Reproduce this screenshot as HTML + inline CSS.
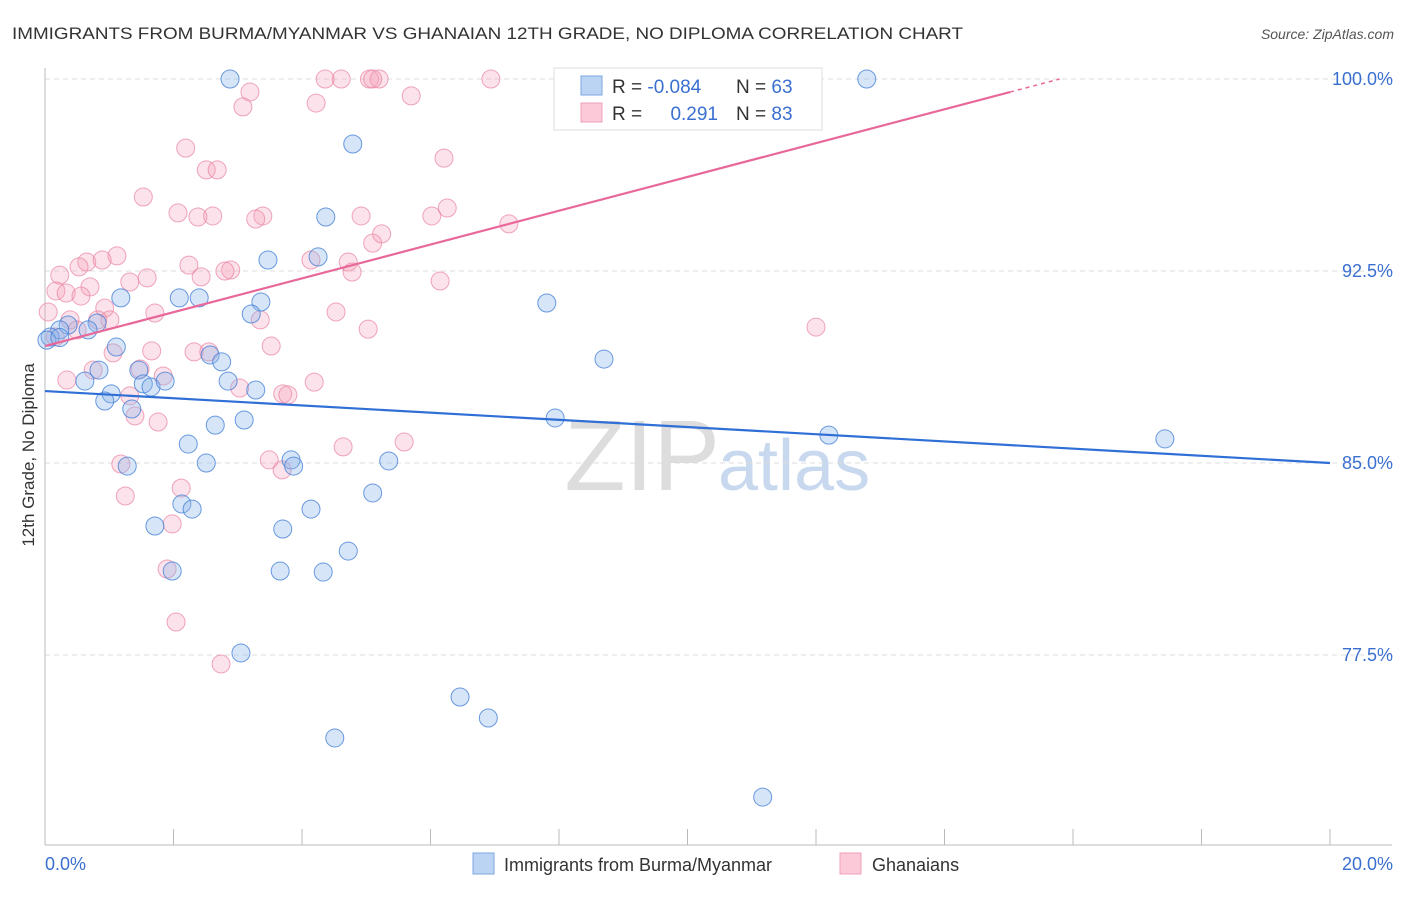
<!DOCTYPE html>
<html><head><meta charset="utf-8"><style>
body{margin:0;background:#fff;font-family:"Liberation Sans",sans-serif;}
svg text{font-family:"Liberation Sans",sans-serif;}
</style></head><body>
<svg id="chart" width="1406" height="892" xmlns="http://www.w3.org/2000/svg">
<text x="12" y="39" font-size="17" fill="#333" textLength="951" lengthAdjust="spacingAndGlyphs">IMMIGRANTS FROM BURMA/MYANMAR VS GHANAIAN 12TH GRADE, NO DIPLOMA CORRELATION CHART</text>
<text x="1394" y="39" font-size="14" fill="#555" font-style="italic" text-anchor="end">Source: ZipAtlas.com</text>
<text x="720" y="490" font-size="100" fill="#ddd" font-family="Liberation Serif" text-anchor="end">ZIP</text>
<text x="718" y="490" font-size="72" fill="#c8d8ee">atlas</text>
<g id="grid"></g>
<g id="axes"></g>
<g id="pts"></g>
<g id="lines"></g>
<text transform="translate(34,455) rotate(-90)" font-size="17" fill="#333" text-anchor="middle">12th Grade, No Diploma</text>
<g>
<rect x="554" y="68" width="268" height="62" fill="#fff" stroke="#ddd"/>
<rect x="581" y="76" width="21" height="19" fill="#bcd4f4" stroke="#7ea6e0"/>
<rect x="581" y="103" width="21" height="19" fill="#fbc9d8" stroke="#f0a0b8"/>
<text x="612" y="93" font-size="19" fill="#333">R = <tspan fill="#3a6fd0">-0.084</tspan></text>
<text x="736" y="93" font-size="19" fill="#333">N = <tspan fill="#3a6fd0">63</tspan></text>
<text x="612" y="120" font-size="19" fill="#333">R = </text>
<text x="718" y="120" font-size="19" fill="#3a6fd0" text-anchor="end">0.291</text>
<text x="736" y="120" font-size="19" fill="#333">N = <tspan fill="#3a6fd0">83</tspan></text>
</g>
<g>
<rect x="473" y="853" width="21" height="21" fill="#bcd4f4" stroke="#7ea6e0"/>
<text x="504" y="871" font-size="18" fill="#333">Immigrants from Burma/Myanmar</text>
<rect x="840" y="853" width="21" height="21" fill="#fbc9d8" stroke="#f0a0b8"/>
<text x="872" y="871" font-size="18" fill="#333">Ghanaians</text>
</g>
</svg>
<script>
const yTicks=[100,92.5,85,77.5];
const yTickLabels=["100.0%","92.5%","85.0%","77.5%"];
const xTickLabels=["0.0%","20.0%"];
const blueX=[2.88,12.79,4.79,4.37,3.47,4.25,7.81,1.18,2.09,2.40,3.36,3.21,0.36,0.81,0.23,0.67,0.08,1.11,8.70,2.57,2.75,1.46,0.84,2.85,0.62,1.53,1.65,1.87,1.03,3.28,0.93,1.35,3.10,2.65,7.94,12.20,17.43,2.23,1.28,2.51,3.83,3.87,5.35,5.10,2.13,2.29,4.14,1.71,3.70,4.72,3.66,1.98,4.33,3.05,6.46,6.90,4.51,11.17,0.03,0.23];
const blueY=[100,100,97.46,94.61,92.93,93.05,91.25,91.45,91.45,91.45,91.29,90.82,90.39,90.47,90.20,90.20,89.92,89.53,89.06,89.22,88.95,88.63,88.63,88.20,88.20,88.09,87.97,88.20,87.70,87.85,87.42,87.11,86.68,86.48,86.76,86.09,85.94,85.74,84.88,85.00,85.12,84.88,85.08,83.83,83.40,83.20,83.20,82.54,82.42,81.56,80.78,80.78,80.74,77.58,75.86,75.04,74.26,71.95,89.8,89.9];
const pinkX=[4.36,4.61,5.05,5.20,6.94,5.10,3.19,3.08,4.22,5.70,2.19,6.21,2.51,2.68,1.53,2.07,2.38,2.61,3.39,4.92,3.28,6.26,6.02,7.22,5.10,5.24,0.23,0.65,0.89,1.12,0.53,2.24,1.59,2.43,2.89,2.80,4.14,4.72,4.78,6.15,0.17,0.33,0.70,0.56,0.93,1.32,4.53,1.71,1.01,0.39,0.82,3.35,12.0,5.03,0.50,3.52,1.66,2.32,2.55,1.06,0.75,1.48,1.84,0.34,4.19,3.70,3.78,3.03,1.32,1.40,1.76,5.59,4.64,1.18,3.49,3.69,1.25,2.12,1.98,1.90,2.04,2.74,0.05,0.16];
const pinkY=[100,100,100,100,100,100,99.49,98.91,99.06,99.34,97.30,96.91,96.45,96.45,95.39,94.77,94.61,94.65,94.65,94.65,94.53,94.96,94.65,94.34,93.59,93.95,92.34,92.85,92.93,93.09,92.66,92.73,92.23,92.27,92.54,92.50,92.93,92.85,92.46,92.11,91.72,91.64,91.88,91.52,91.05,92.07,90.90,90.86,90.59,90.59,90.59,90.59,90.31,90.23,90.20,89.57,89.38,89.34,89.34,89.30,88.63,88.67,88.40,88.24,88.16,87.70,87.66,87.93,87.62,86.84,86.60,85.82,85.63,84.96,85.12,84.73,83.71,84.02,82.62,80.86,78.79,77.15,90.9,89.92];
const blueTrend=[87.81,85.0];
const pinkTrend=[89.57,99.49,15.02];
const X0=45,X1=1330,Y100=79,PX=25.6;
const sx=v=>X0+(v/20)*(X1-X0);
const sy=v=>Y100+(100-v)*PX;
const NS="http://www.w3.org/2000/svg";
function mk(tag,attrs,parent){const e=document.createElementNS(NS,tag);for(const k in attrs)e.setAttribute(k,attrs[k]);parent.appendChild(e);return e;}
const grid=document.getElementById('grid'),axes=document.getElementById('axes'),pts=document.getElementById('pts'),lines=document.getElementById('lines');
yTicks.forEach((t,i)=>{
 const l=mk('line',{x1:X0,x2:1392,y1:sy(t),y2:sy(t),stroke:'#ddd','stroke-dasharray':'5,4'},grid);
 
 
 const tx=mk('text',{x:1393,y:sy(t)+6,'font-size':18,fill:'#3a6fd0','text-anchor':'end'},axes);
 tx.textContent=yTickLabels[i];
 
 
});
const ax=mk('line',{x1:X0,x2:X0,y1:68,y2:845,stroke:'#bbb'},axes);


const bx=mk('line',{x1:X0,x2:1392,y1:845,y2:845,stroke:'#bbb'},axes);


for(let i=0;i<=10;i++){
 const t=mk('line',{x1:sx(i*2),x2:sx(i*2),y1:829,y2:845,stroke:'#bbb'},axes);
 
 
}
[[0,'start',45],[20,'end',1393]].forEach((d,i)=>{
 const tx=mk('text',{x:d[2],y:870,'font-size':18,fill:'#3a6fd0','text-anchor':d[1]},axes);
 tx.textContent=xTickLabels[i];
 
 
});
pinkX.forEach((v,i)=>{
 const c=mk('circle',{cx:sx(v),cy:sy(pinkY[i]),r:9,fill:'rgba(245,160,185,0.3)',stroke:'rgba(232,130,160,0.7)','stroke-width':1},pts);
 
 
});
blueX.forEach((v,i)=>{
 const c=mk('circle',{cx:sx(v),cy:sy(blueY[i]),r:9,fill:'rgba(140,180,235,0.35)',stroke:'rgba(70,130,215,0.8)','stroke-width':1},pts);
 
 
});
const bl=mk('line',{x1:sx(0),y1:sy(blueTrend[0]),x2:sx(20),y2:sy(blueTrend[1]),stroke:'#2f6fd6','stroke-width':2.2},lines);


const slope=(pinkTrend[1]-pinkTrend[0])/pinkTrend[2];
const pl=mk('line',{x1:sx(0),y1:sy(pinkTrend[0]),x2:sx(pinkTrend[2]),y2:sy(pinkTrend[1]),stroke:'#e8689a','stroke-width':2.2},lines);


const xe=pinkTrend[2]+(100-pinkTrend[1])/slope;
const pd=mk('line',{x1:sx(pinkTrend[2]),y1:sy(pinkTrend[1]),x2:sx(xe),y2:sy(100),stroke:'#e8689a','stroke-width':1.5,'stroke-dasharray':'4,4'},lines);


</script>
</body></html>
